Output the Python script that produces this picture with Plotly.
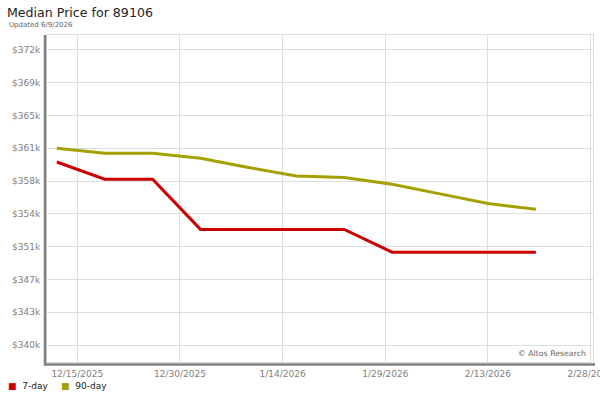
import plotly.graph_objects as go

# ---- data ----
dates = ["2025-12-12", "2025-12-19", "2025-12-26", "2026-01-02", "2026-01-09",
         "2026-01-16", "2026-01-23", "2026-01-30", "2026-02-06", "2026-02-13",
         "2026-02-20"]
price_7day = [359900, 358000, 358000, 352500, 352500, 352500, 352500,
              350000, 350000, 350000, 350000]
price_90day = [361400, 360850, 360850, 360300, 359300, 358350, 358200,
               357450, 356400, 355350, 354700]

y_tickvals = [339800, 343400, 347000, 350600, 354200, 357800, 361400,
              365000, 368600, 372200]
y_ticktext = ["$340k", "$343k", "$347k", "$351k", "$354k", "$358k", "$361k",
              "$365k", "$369k", "$372k"]
x_tickvals = ["2025-12-15", "2025-12-30", "2026-01-14", "2026-01-29",
              "2026-02-13", "2026-02-28"]
x_ticktext = ["12/15/2025", "12/30/2025", "1/14/2026", "1/29/2026",
              "2/13/2026", "2/28/2026"]
series_names = ["7-day", "90-day"]

RED = "#cc0000"
OLIVE = "#a3a000"
FONT = "DejaVu Sans"

W, H = 600, 400
ML, MR, MT, MB = 47, 7, 35, 38
PW, PH = W - ML - MR, H - MT - MB

fig = go.Figure()
fig.add_trace(go.Scatter(x=dates, y=price_7day, mode="lines", name=series_names[0],
                         line=dict(color=RED, width=3), showlegend=False))
fig.add_trace(go.Scatter(x=dates, y=price_90day, mode="lines", name=series_names[1],
                         line=dict(color=OLIVE, width=3), showlegend=False))

def px_x(p):
    return (p - ML) / PW

def px_y(p):
    return (H - MB - p) / PH

shapes = [
    dict(type="line", xref="paper", yref="paper",
         x0=px_x(45), x1=px_x(45), y0=px_y(35), y1=px_y(365.5),
         line=dict(color="#808080", width=2.5)),
    dict(type="line", xref="paper", yref="paper",
         x0=px_x(44), x1=px_x(595), y0=px_y(364.5), y1=px_y(364.5),
         line=dict(color="#808080", width=2.5)),
]

legend_items = [
    dict(text=f'<span style="color:{RED}">■</span>  {series_names[0]}',
         xref="paper", yref="paper", x=px_x(6), y=px_y(386),
         xanchor="left", yanchor="middle", showarrow=False,
         font=dict(family=FONT, size=9, color="#222222")),
    dict(text=f'<span style="color:{OLIVE}">■</span>  {series_names[1]}',
         xref="paper", yref="paper", x=px_x(59), y=px_y(386),
         xanchor="left", yanchor="middle", showarrow=False,
         font=dict(family=FONT, size=9, color="#222222")),
]

fig.update_layout(
    width=W, height=H,
    margin=dict(l=ML, r=MR, t=MT, b=MB, pad=0, autoexpand=False),
    paper_bgcolor="white", plot_bgcolor="white",
    showlegend=False,
    font=dict(family=FONT, size=9, color="#808080"),
    title=dict(text="Median Price for 89106", x=7 / W, xanchor="left",
               xref="container", yref="container", y=1 - 13 / H, yanchor="middle",
               font=dict(family=FONT, size=12.6, color="#222222")),
    xaxis=dict(type="date", range=["2025-12-10 13:40", "2026-02-28 08:24"],
               tickvals=x_tickvals, ticktext=x_ticktext, automargin=False,
               showgrid=True, gridcolor="#dddddd", gridwidth=1,
               showline=True, linecolor="#dddddd", linewidth=1, mirror=True,
               ticks="", zeroline=False, ticklabelstandoff=3,
               ticklabeloverflow="allow",
               tickfont=dict(family=FONT, size=9, color="#808080")),
    yaxis=dict(range=[337940, 373840], automargin=False,
               tickvals=y_tickvals, ticktext=y_ticktext,
               showgrid=True, gridcolor="#dddddd", gridwidth=1,
               showline=True, linecolor="#dddddd", linewidth=1, mirror=True,
               ticks="", zeroline=False, ticklabelstandoff=4,
               tickfont=dict(family=FONT, size=9, color="#808080")),
    shapes=shapes,
    annotations=[
        dict(text="Updated 6/9/2026", xref="paper", yref="paper",
             x=px_x(7), y=px_y(25), xanchor="left", yanchor="middle",
             showarrow=False, font=dict(family=FONT, size=7, color="#666666")),
        dict(text="© Altos Research", xref="paper", yref="paper",
             x=px_x(588), y=px_y(353), xanchor="right", yanchor="middle",
             showarrow=False, font=dict(family=FONT, size=7.8, color="#666666")),
    ] + legend_items,
)

fig.write_html("out.html", config={"displayModeBar": False},
               post_script="document.body.style.margin='0';")
